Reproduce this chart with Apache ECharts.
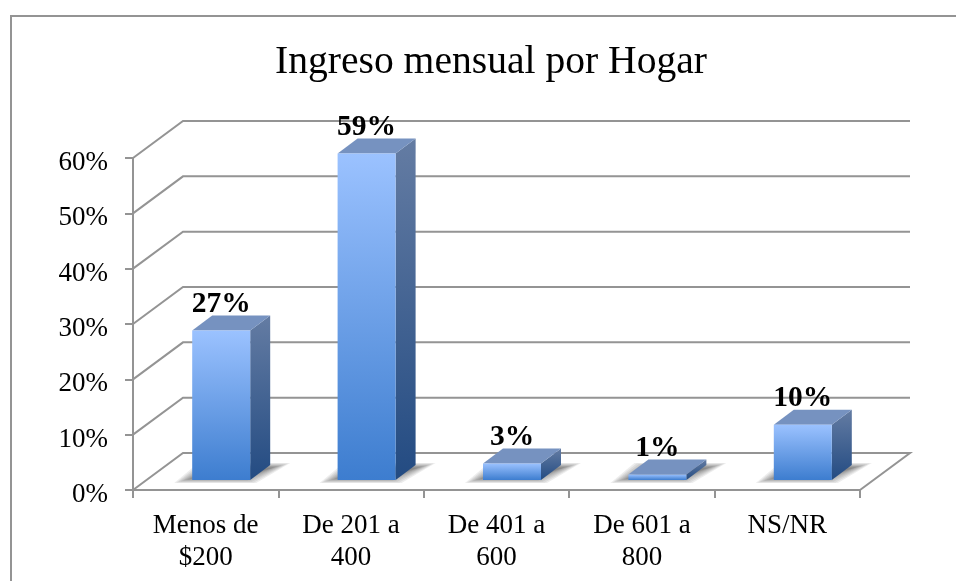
<!DOCTYPE html>
<html>
<head>
<meta charset="utf-8">
<style>
html, body { margin: 0; padding: 0; background: #fff; }
#chart { width: 956px; height: 581px; }
</style>
</head>
<body>
<div id="chart"></div>
<script src="https://cdn.jsdelivr.net/npm/echarts@6/dist/echarts.min.js"></script>
<script>
const titleText = 'Ingreso mensual por Hogar';
const categories = ['Menos de\n$200', 'De 201 a\n400', 'De 401 a\n600', 'De 601 a\n800', 'NS/NR'];
const percents = [27, 59, 3, 1, 10];
const yTicks = [0, 10, 20, 30, 40, 50, 60];

const fontName = '"Liberation Serif", serif';
const lineGray = '#949494';

// fake 3d: floor depth and bar depth in pixels
const wallDx = 50, wallDy = -37;
const barDx = 20, barDy = -15;
const barShiftX = 15.5, barShiftY = -10;
const barWidth = 58;
const shadowLayers = 9;

function vGrad(top, bottom) {
    return new echarts.graphic.LinearGradient(0, 0, 0, 1, [
        { offset: 0, color: top },
        { offset: 1, color: bottom }
    ]);
}

function renderWall(params, api) {
    const v = api.value(1);
    const grid = params.coordSys;
    const y = api.coord([0, v])[1];
    const left = grid.x, right = grid.x + grid.width;
    const pts = [[left, y], [left + wallDx, y + wallDy], [right + wallDx, y + wallDy]];
    if (v === 0) pts.push([right, y]);
    return {
        type: 'polyline',
        shape: { points: pts },
        style: { stroke: lineGray, lineWidth: 2, fill: null }
    };
}

// soft floor shadow, stacked see-through polygons
function shadowParts(x0, x1, yBase) {
    const parts = [];
    for (let t = 0; t < shadowLayers; t++) {
        const dx = t * 2.2, dy = t * 0.6;
        parts.push({
            type: 'polygon',
            shape: { points: [
                [x0 - 18 + dx, yBase + 3 - dy],
                [x1 + 6 - dx, yBase + 3 - dy],
                [x1 + barDx + 20 - dx, yBase + barDy - 2 + dy],
                [x0 + 6 + dx, yBase + barDy - 2 + dy]
            ] },
            style: { fill: 'rgba(50,50,50,0.085)' }
        });
    }
    return parts;
}

function renderBar(params, api) {
    const top = api.coord([api.value(0), api.value(1)]);
    const base = api.coord([api.value(0), 0]);
    const x0 = top[0] + barShiftX - barWidth / 2;
    const x1 = x0 + barWidth;
    const yTop = top[1] + barShiftY;
    const yBase = base[1] + barShiftY;
    return {
        type: 'group',
        children: shadowParts(x0, x1, yBase).concat([
            {
                type: 'polygon',
                shape: { points: [[x1, yTop], [x1 + barDx, yTop + barDy], [x1 + barDx, yBase + barDy], [x1, yBase]] },
                style: { fill: vGrad('#647ca3', '#234b82') }
            },
            {
                type: 'polygon',
                shape: { points: [[x0, yTop], [x0 + barDx, yTop + barDy], [x1 + barDx, yTop + barDy], [x1, yTop]] },
                style: { fill: '#7692c0' }
            },
            {
                type: 'rect',
                shape: { x: x0, y: yTop, width: barWidth, height: yBase - yTop },
                style: { fill: vGrad('#9bc2ff', '#3d7dcf') }
            },
            {
                type: 'text',
                style: {
                    x: top[0] + barShiftX,
                    y: yTop - 26,
                    text: api.value(1) + '%',
                    font: 'bold 29.5px ' + fontName,
                    fill: '#000',
                    align: 'center',
                    verticalAlign: 'middle'
                }
            }
        ])
    };
}

const chart = echarts.init(document.getElementById('chart'), null, { renderer: 'canvas' });
chart.setOption({
    backgroundColor: '#fff',
    animation: false,
    title: {
        text: titleText,
        left: 486,
        top: 38,
        textAlign: 'center',
        textStyle: { fontFamily: fontName, fontSize: 39.6, fontWeight: 'normal', color: '#000' }
    },
    grid: { left: 133, right: 96, top: 158, bottom: 91 },
    xAxis: {
        type: 'category',
        data: categories,
        axisLine: { lineStyle: { color: lineGray, width: 2 } },
        axisTick: { show: true, alignWithLabel: false, length: 8, lineStyle: { color: lineGray, width: 2 } },
        axisLabel: { color: '#000', fontFamily: fontName, fontSize: 27, lineHeight: 32, margin: 20, interval: 0 }
    },
    yAxis: {
        type: 'value',
        min: 0,
        max: 60,
        interval: 10,
        axisLine: { show: true, lineStyle: { color: lineGray, width: 2 } },
        axisTick: { show: true, length: 8, lineStyle: { color: lineGray, width: 2 } },
        axisLabel: {
            margin: 25,
            formatter: v => '{a|' + v + '%}',
            rich: { a: { color: '#000', fontFamily: fontName, fontSize: 27, padding: [10, 0, 0, 0] } }
        },
        splitLine: { show: false }
    },
    graphic: [{
        type: 'polyline',
        shape: { points: [[11, 581], [11, 16], [956, 16]] },
        style: { stroke: lineGray, lineWidth: 2, fill: null }
    }],
    series: [
        {
            type: 'custom',
            z: 1,
            renderItem: renderWall,
            encode: { x: 0, y: 1 },
            data: yTicks.map(v => [0, v]),
            silent: true
        },
        {
            type: 'custom',
            z: 3,
            renderItem: renderBar,
            encode: { x: 0, y: 1 },
            data: percents.map((v, i) => [i, v]),
            silent: true
        }
    ]
});
</script>
</body>
</html>
